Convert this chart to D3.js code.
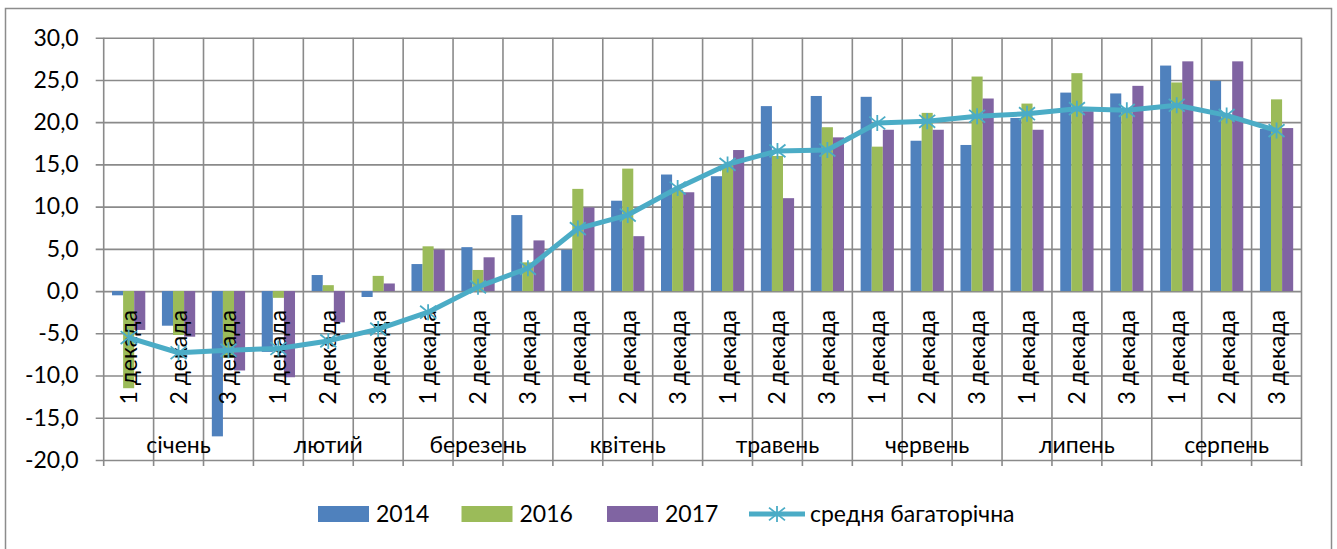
<!DOCTYPE html>
<html>
<head>
<meta charset="utf-8">
<script src="https://cdn.jsdelivr.net/npm/d3@7"></script>
<style>
  body { margin: 0; background: #fff; }
  text { font-family: Lato, "Open Sans", sans-serif; fill: #000; }
</style>
</head>
<body>
<svg id="chart"></svg>
<script>
// Chart data (air temperature by decade, °C)
const months = ['січень', 'лютий', 'березень', 'квітень', 'травень', 'червень', 'липень', 'серпень'];
const decades = ['1 декада', '2 декада', '3 декада'];
const seriesNames = ['2014', '2016', '2017'];
const values2014 = [-0.5, -4.1, -17.2, -7.2, 1.9, -0.7, 3.2, 5.2, 9.0, 4.9, 10.7, 13.8, 13.6, 21.9, 23.1, 23.0, 17.8, 17.3, 20.5, 23.5, 23.4, 26.7, 24.9, 19.2];
const values2016 = [-11.5, -5.2, -7.9, -0.8, 0.7, 1.8, 5.3, 2.5, 3.4, 12.1, 14.5, 12.0, 15.0, 16.0, 19.4, 17.1, 21.1, 25.4, 22.2, 25.8, 21.2, 24.7, 20.6, 22.7];
const values2017 = [-4.6, -5.4, -9.4, -10.2, -3.7, 0.9, 4.9, 4.0, 6.0, 9.9, 6.5, 11.7, 16.7, 11.0, 18.2, 19.1, 19.1, 22.8, 19.1, 21.3, 24.3, 27.2, 27.2, 19.3];
const averageValues = [-5.5, -7.3, -7.0, -6.8, -5.9, -4.5, -2.5, 0.5, 2.7, 7.4, 9.0, 12.2, 15.0, 16.6, 16.7, 19.9, 20.1, 20.7, 21.0, 21.6, 21.4, 22.0, 20.8, 19.0];
const averageName = 'средня багаторічна';
const yTicks = [-20, -15, -10, -5, 0, 5, 10, 15, 20, 25, 30];

const barColors = ['#4F81BD', '#9BBB59', '#8064A2'];
const lineColor = '#4BACC6';
const gridColor = '#8a8a8a';
const fontSize = '23px';

// Build the category list (month x decade)
const categories = [];
months.forEach((m, mi) => {
  decades.forEach((d, di) => {
    categories.push({ key: mi * 3 + di, month: m, decade: d });
  });
});
const seriesValues = [values2014, values2016, values2017];

// SVG size and plot area
const W = 1337, H = 549;
const plot = { left: 103.7, right: 1301.5, top: 37.7, bottom: 460 };

const svg = d3.select('#chart')
  .attr('width', W)
  .attr('height', H);

// Outer chart border
svg.append('rect')
  .attr('x', 5.5)
  .attr('y', 8.5)
  .attr('width', 1326)
  .attr('height', 560)
  .attr('fill', '#fff')
  .attr('stroke', '#8c8c8c')
  .attr('stroke-width', 1.5);

// Scales
const x0 = d3.scaleBand()
  .domain(categories.map(d => d.key))
  .range([plot.left, plot.right])
  .padding(0);

const x1 = d3.scaleBand()
  .domain(seriesNames)
  .range([x0.bandwidth() / 6, x0.bandwidth() * 5 / 6])
  .padding(0);

const y = d3.scaleLinear()
  .domain([-20, 30])
  .range([plot.bottom, plot.top]);

const fmt = d3.formatLocale({ decimal: ',', thousands: ' ', grouping: [3], currency: ['', ''], minus: '-' }).format('.1f');

// Horizontal gridlines + y axis labels
const yAxis = svg.append('g')
  .attr('transform', `translate(${plot.left}, 0)`)
  .call(d3.axisLeft(y)
    .tickValues(yTicks)
    .tickSize(-(plot.right - plot.left))
    .tickSizeOuter(0)
    .tickPadding(25)
    .tickFormat(fmt));
yAxis.select('.domain').remove();
yAxis.selectAll('.tick line')
  .attr('x1', -8)
  .attr('stroke', gridColor)
  .attr('stroke-width', 1.6);
yAxis.selectAll('.tick text')
  .style('font-size', fontSize)
  .style('font-family', 'Lato, "Open Sans", sans-serif')
  .attr('fill', '#000');

// Vertical gridlines at category boundaries
const boundaries = categories.map(d => x0(d.key)).concat([x0(categories[categories.length - 1].key) + x0.bandwidth()]);
svg.append('g')
  .selectAll('line')
  .data(boundaries)
  .join('line')
  .attr('x1', d => d)
  .attr('x2', d => d)
  .attr('y1', plot.top)
  .attr('y2', plot.bottom + 6)
  .attr('stroke', gridColor)
  .attr('stroke-width', 1.6);

// Bars
seriesNames.forEach((name, si) => {
  svg.append('g')
    .selectAll('rect')
    .data(categories)
    .join('rect')
    .attr('x', d => x0(d.key) + x1(name))
    .attr('width', x1.bandwidth())
    .attr('y', d => y(Math.max(0, seriesValues[si][d.key])))
    .attr('height', d => Math.abs(y(seriesValues[si][d.key]) - y(0)))
    .attr('fill', barColors[si]);
});

// Decade labels (rotated)
svg.append('g')
  .selectAll('text')
  .data(categories)
  .join('text')
  .attr('transform', d => `translate(${x0(d.key) + x0.bandwidth() / 2 + 8}, ${y(0) + 19}) rotate(-90)`)
  .attr('text-anchor', 'end')
  .style('font-size', fontSize)
  .text(d => d.decade);

// Month labels
svg.append('g')
  .selectAll('text')
  .data(months)
  .join('text')
  .attr('x', (d, i) => (x0(i * 3) + x0(i * 3 + 2) + x0.bandwidth()) / 2)
  .attr('y', 453)
  .attr('text-anchor', 'middle')
  .style('font-size', fontSize)
  .text(d => d);

// Average line
const line = d3.line()
  .x((d, i) => x0(i) + x0.bandwidth() / 2)
  .y(d => y(d));

svg.append('path')
  .datum(averageValues)
  .attr('fill', 'none')
  .attr('stroke', lineColor)
  .attr('stroke-width', 5)
  .attr('stroke-linejoin', 'round')
  .attr('d', line);

// Star (asterisk) marker
function starPath(s) {
  return `M0,${-s}L0,${s}M${-s},${-s * 0.8}L${s},${s * 0.8}M${-s},${s * 0.8}L${s},${-s * 0.8}`;
}

svg.append('g')
  .selectAll('path')
  .data(averageValues)
  .join('path')
  .attr('transform', (d, i) => `translate(${x0(i) + x0.bandwidth() / 2}, ${y(d)})`)
  .attr('d', starPath(8))
  .attr('fill', 'none')
  .attr('stroke', lineColor)
  .attr('stroke-width', 1.8);

// Legend
const legend = svg.append('g');
const legendY = 514;
const legendX = [318, 461.5, 607];

seriesNames.forEach((name, i) => {
  legend.append('rect')
    .attr('x', legendX[i])
    .attr('y', legendY - 8)
    .attr('width', 51)
    .attr('height', 16)
    .attr('fill', barColors[i]);
  legend.append('text')
    .attr('x', legendX[i] + 58)
    .attr('y', legendY)
    .attr('dy', '0.35em')
    .style('font-size', fontSize)
    .text(name);
});

legend.append('line')
  .attr('x1', 749)
  .attr('x2', 805)
  .attr('y1', legendY)
  .attr('y2', legendY)
  .attr('stroke', lineColor)
  .attr('stroke-width', 5);
legend.append('path')
  .attr('transform', `translate(777, ${legendY})`)
  .attr('d', starPath(8))
  .attr('fill', 'none')
  .attr('stroke', lineColor)
  .attr('stroke-width', 1.8);
legend.append('text')
  .attr('x', 810)
  .attr('y', legendY)
  .attr('dy', '0.35em')
  .style('font-size', fontSize)
  .text(averageName);
</script>
</body>
</html>
